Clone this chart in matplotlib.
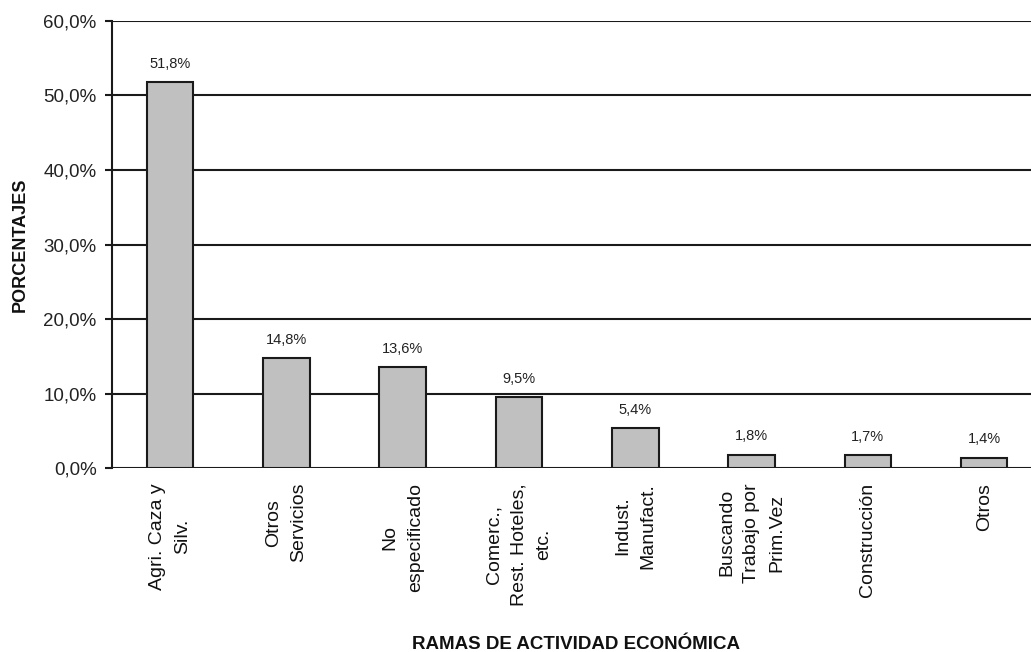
import matplotlib
matplotlib.use("Agg")
import matplotlib.pyplot as plt
from matplotlib.ticker import FuncFormatter

plt.rcParams['font.family'] = ['Liberation Sans', 'DejaVu Sans']

categorias = ["Agri. Caza y\nSilv.", "Otros\nServicios", "No\nespecificado",
              "Comerc.,\nRest. Hoteles,\netc.", "Indust.\nManufact.",
              "Buscando\nTrabajo por\nPrim.Vez", "Construcción", "Otros"]
porcentajes = [51.8, 14.8, 13.6, 9.5, 5.4, 1.8, 1.7, 1.4]
yticks = [0, 10, 20, 30, 40, 50, 60]

fig = plt.figure(figsize=(10.31, 6.52), dpi=100)
ax = fig.add_axes([0.1086, 0.2822, 0.9024, 0.6856])

x = list(range(len(categorias)))
ax.bar(x, porcentajes, width=0.4, color="#c0c0c0", edgecolor="#1a1a1a",
       linewidth=1.5, zorder=3)

for xi, v in zip(x, porcentajes):
    ax.annotate(f"{v:.1f}%".replace(".", ","), (xi, v), xytext=(0, 8),
                textcoords="offset points", ha="center", va="bottom",
                fontsize=10.5, color="#222222")

ax.set_xlim(-0.5, len(categorias) - 0.5)
ax.set_ylim(0, 60)
ax.set_yticks(yticks)
ax.yaxis.set_major_formatter(FuncFormatter(lambda v, p: f"{v:.1f}%".replace(".", ",")))
ax.grid(axis="y", color="#1a1a1a", linewidth=1.5, zorder=1)
ax.set_axisbelow(True)

for s in ["top", "right", "bottom"]:
    ax.spines[s].set_visible(False)
ax.spines["left"].set_linewidth(1.5)
ax.spines["left"].set_color("#1a1a1a")

ax.tick_params(axis="y", length=5, width=1.5, color="#1a1a1a", labelsize=13.5,
               pad=6, labelcolor="#222222")
ax.set_xticks(x)
ax.set_xticklabels([])
ax.tick_params(axis="x", length=0)

for xi, lab in zip(x, categorias):
    ax.text(xi, -2.0, lab, rotation=90, ha="center", va="top",
            multialignment="center", fontsize=14, linespacing=1.62,
            color="#111111", clip_on=False)

fig.text(0.0194, 0.625, "PORCENTAJES", rotation=90, ha="center", va="center",
         fontsize=13, fontweight="bold", color="#111111")
fig.text(0.5587, 0.004, "RAMAS DE ACTIVIDAD ECONÓMICA", ha="center", va="baseline",
         fontsize=13.5, fontweight="bold", color="#111111")

fig.savefig("out.png", dpi=100)
